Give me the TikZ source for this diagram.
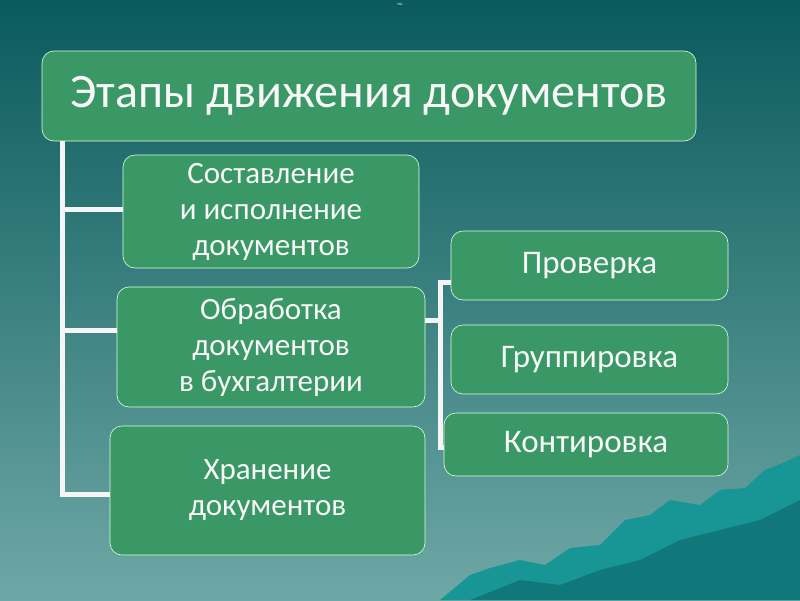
\documentclass[tikz,border=0pt]{standalone}
\usepackage{fontspec}
\setmainfont{Carlito}
\definecolor{boxg}{RGB}{58,152,102}
\definecolor{bgtop}{RGB}{10,90,92}
\definecolor{bgbot}{RGB}{110,168,166}
\definecolor{mtn}{RGB}{24,150,150}
\definecolor{mtnd}{RGB}{16,120,122}
\begin{document}
\begin{tikzpicture}[x=1pt,y=-1pt,
  box/.style={draw=white!85!green,line width=0.6pt,fill=boxg,rounded corners=12pt,text=white!94!gray,align=center,font=\fontsize{31}{36}\selectfont,inner sep=0pt},
  conn/.style={draw=white!92!gray,line width=5pt}]
\shade[top color=bgtop,bottom color=bgbot] (0,0) rectangle (800,600);
\useasboundingbox (0,0) rectangle (800,600);
\fill[mtn] (440,600) -- (470,575) -- (490,568) -- (520,560) -- (545,565) -- (570,548) -- (600,545) -- (625,520) -- (650,515) -- (670,500) -- (700,505) -- (720,490) -- (745,488) -- (765,470) -- (785,462) -- (800,455) -- (800,600) -- cycle;
\fill[mtnd] (470,600) -- (520,580) -- (560,585) -- (600,570) -- (640,560) -- (680,540) -- (720,530) -- (760,520) -- (800,500) -- (800,600) -- cycle;
\node[text=white,font=\tiny] (mark) at (400,4) {$\infty$};
\node[box,minimum width=654pt,minimum height=90pt,font=\fontsize{48}{50}\selectfont] (title) at (369,96) {Этапы движения документов};
\node[box,minimum width=296pt,minimum height=113pt] (b1) at (271,211.5) {Составление\\и исполнение\\документов};
\node[box,minimum width=308pt,minimum height=120pt] (b2) at (271,347) {Обработка\\документов\\в бухгалтерии};
\node[box,minimum width=315pt,minimum height=129pt] (b3) at (267.5,490.5) {Хранение\\документов};
\node[box,minimum width=277pt,minimum height=69pt,font=\fontsize{33}{36}\selectfont] (r1) at (589.5,265.5) {Проверка};
\node[box,minimum width=277pt,minimum height=69pt,font=\fontsize{33}{36}\selectfont] (r2) at (589.5,359.5) {Группировка};
\node[box,minimum width=284pt,minimum height=63pt,font=\fontsize{33}{36}\selectfont] (r3) at (586,444.5) {Контировка};
\coordinate (v0) at (62,141);
\coordinate (v3) at (62,494);
\draw[conn] (v0) -- (v3);
\draw[conn] (62,209) -- (b1.west |- 0,209);
\draw[conn] (62,330) -- (b2.west |- 0,330);
\draw[conn] (59.5,494) -- (b3.west |- 0,494);
\coordinate (k) at (440,320);
\draw[conn] (b2.east |- k) -- (k);
\draw[conn] (440,280) -- (440,449);
\draw[conn] (437.5,282) -- (r1.west |- 0,282);
\draw[conn] (437.5,447) -- (r3.west |- 0,447);
\end{tikzpicture}
\end{document}
